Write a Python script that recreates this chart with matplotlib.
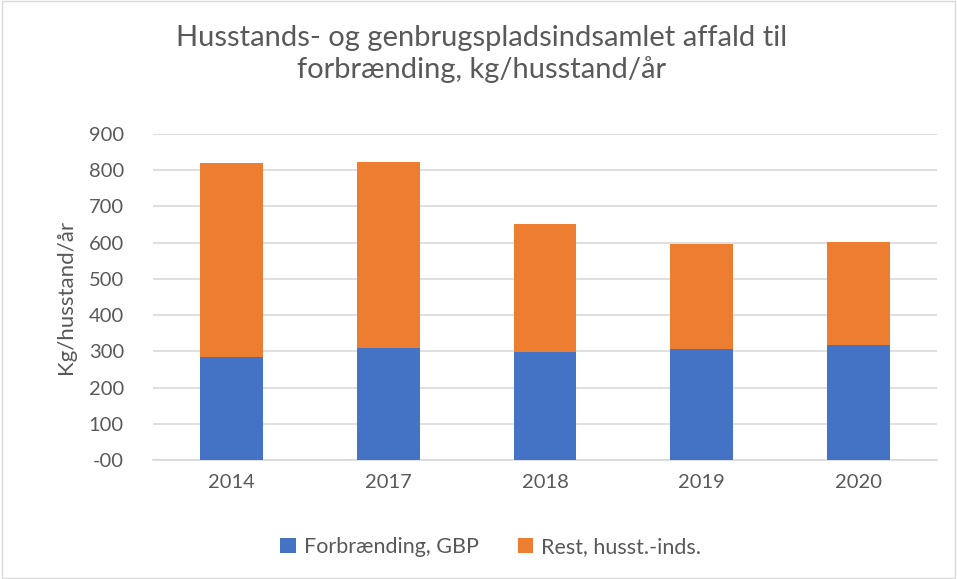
import matplotlib.pyplot as plt
from matplotlib.patches import Rectangle

years = ["2014", "2017", "2018", "2019", "2020"]
forbraending = [284, 309, 298, 306, 317]
totals = [820, 822, 651, 596, 601]
rest = [t - f for t, f in zip(totals, forbraending)]
yticks = [0, 100, 200, 300, 400, 500, 600, 700, 800, 900]
ytick_labels = ["-00", "100", "200", "300", "400", "500", "600", "700", "800", "900"]

blue = "#4472c4"
orange = "#ed7d31"
grey = "#595959"

plt.rcParams["font.family"] = ["Lato", "DejaVu Sans"]

fig = plt.figure(figsize=(9.57, 5.79), dpi=100)
fig.patches.append(Rectangle((0.002, 0.002), 0.996, 0.996, transform=fig.transFigure,
                             fill=False, edgecolor="#d9d9d9", linewidth=1))
ax = fig.add_axes([0.160, 0.2055, 0.819, 0.563])

x = range(len(years))
ax.bar(x, forbraending, width=0.40, color=blue, label="Forbrænding, GBP", zorder=3)
ax.bar(x, rest, width=0.40, bottom=forbraending, color=orange,
       label="Rest, husst.-inds.", zorder=3)

ax.set_ylim(0, 900)
ax.set_xlim(-0.5, len(years) - 0.5)
ax.set_yticks(yticks)
ax.set_yticklabels(ytick_labels)
ax.set_xticks(list(x))
ax.set_xticklabels(years)
ax.tick_params(axis="both", length=0, colors=grey, labelsize=14.5)
ax.tick_params(axis="y", pad=21)
ax.tick_params(axis="x", pad=10)
ax.grid(axis="y", color="#d9d9d9", linewidth=1.2, zorder=0)
for s in ["top", "right", "left"]:
    ax.spines[s].set_visible(False)
ax.spines["bottom"].set_color("#d9d9d9")
ax.spines["bottom"].set_linewidth(1.2)

ax.set_ylabel("Kg/husstand/år", fontsize=16, color=grey, labelpad=9)

fig.text(0.503, 0.907, "Husstands- og genbrugspladsindsamlet affald til\nforbrænding, kg/husstand/år",
         ha="center", va="center", fontsize=21, color=grey, linespacing=1.2)

fig.legend(loc="center", bbox_to_anchor=(0.513, 0.055), ncol=2, frameon=False,
           fontsize=15.5, labelcolor=grey, handlelength=0.7, handleheight=0.7,
           columnspacing=1.8, handletextpad=0.4)

fig.savefig("out.png", dpi=100)
